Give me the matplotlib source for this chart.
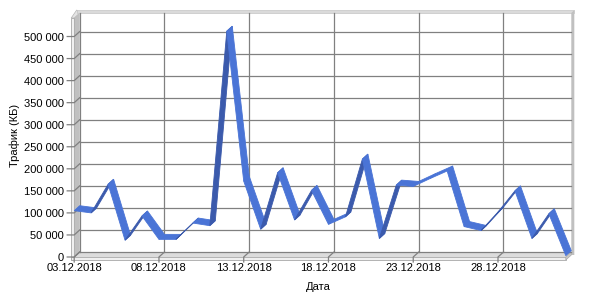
import matplotlib
matplotlib.use("Agg")
import matplotlib.pyplot as plt
from matplotlib.patches import Polygon

# daily traffic, КБ (03.12.2018 - 01.01.2019)
dates = ['03.12.2018', '04.12.2018', '05.12.2018', '06.12.2018', '07.12.2018',
         '08.12.2018', '09.12.2018', '10.12.2018', '11.12.2018', '12.12.2018',
         '13.12.2018', '14.12.2018', '15.12.2018', '16.12.2018', '17.12.2018',
         '18.12.2018', '19.12.2018', '20.12.2018', '21.12.2018', '22.12.2018',
         '23.12.2018', '24.12.2018', '25.12.2018', '26.12.2018', '27.12.2018',
         '28.12.2018', '29.12.2018', '30.12.2018', '31.12.2018', '01.01.2019']
traffic = [105000, 100000, 165000, 38000, 93000, 40000, 40000, 77000, 71000, 512000,
           172000, 63000, 191000, 84000, 151000, 74000, 91000, 222000, 42000, 163000,
           160000, 178000, 195000, 69000, 60000, 102000, 150000, 42000, 98000, 3000]
yticks = list(range(0, 500001, 50000))
ytick_labels = ['{:,}'.format(v).replace(',', ' ') for v in yticks]
xtick_idx = [0, 5, 10, 15, 20, 25]

plt.rcParams['font.family'] = ['Liberation Sans', 'DejaVu Sans']
plt.rcParams['font.size'] = 8

W, H = 600, 300
fig = plt.figure(figsize=(W / 100, H / 100), dpi=100)
left, right, top, bottom = 74.2, 565.8, 18, 257
ax = fig.add_axes([left / W, 1 - bottom / H, (right - left) / W, (bottom - top) / H])
XMAX, YMAX = len(traffic) - 1, 542000
ax.set_xlim(0, XMAX)
ax.set_ylim(0, YMAX)
ax.patch.set_visible(False)
for s in ax.spines.values():
    s.set_visible(False)

# pixel -> data units
ux = XMAX / (right - left)
uy = YMAX / (bottom - top)
DX, DY = 5.5, 5.0          # depth offset of the back wall, px
T = 3.0                    # wall thickness, px
dx, dy, tx, ty = DX * ux, DY * uy, T * ux, T * uy


def poly(pts, fc, ec='none', lw=0.0, z=1):
    ax.add_patch(Polygon(pts, closed=True, facecolor=fc, edgecolor=ec,
                         linewidth=lw, zorder=z, clip_on=False))


# walls
poly([(0, 0), (0, YMAX), (dx, YMAX + dy), (dx, dy)], '#c0c0c0', z=1)
poly([(-tx, -ty), (-tx, YMAX), (0, YMAX), (0, -ty)], '#f0f0f0', '#a8a8a8', 0.6, z=1.2)
poly([(-tx, YMAX), (0, YMAX), (dx, YMAX + dy), (dx - tx, YMAX + dy + ty)], '#e4e4e4',
     '#b4b4b4', 0.5, z=1.1)
poly([(dx - tx, YMAX + dy), (XMAX + dx + tx, YMAX + dy), (XMAX + dx + tx, YMAX + dy + ty),
      (dx - tx, YMAX + dy + ty)], '#dadada', '#c4c4c4', 0.5, z=1.1)
poly([(XMAX + dx, dy - ty), (XMAX + dx, YMAX + dy), (XMAX + dx + tx, YMAX + dy + ty),
      (XMAX + dx + tx, dy - ty)], '#c0c0c0', z=1.1)
poly([(0, 0), (XMAX, 0), (XMAX + dx, dy), (dx, dy)], '#dcdcdc', z=1)
poly([(-tx, -ty), (XMAX, -ty), (XMAX, 0), (-tx, 0)], '#f0f0f0', '#a8a8a8', 0.6, z=1.2)
poly([(XMAX, -ty), (XMAX, 0), (XMAX + dx, dy), (XMAX + dx, dy - ty)], '#c8c8c8',
     '#a8a8a8', 0.5, z=1.2)

# gridlines on the back wall, ticks across walls
grid = dict(color='#808080', linewidth=0.9, zorder=2, clip_on=False)
for v in yticks:
    ax.plot([dx, XMAX + dx], [v + dy, v + dy], **grid)
    ax.plot([-7 * ux, 0, dx], [v, v, v + dy], **grid)
for i in xtick_idx:
    ax.plot([i + dx, i + dx], [dy, YMAX + dy], **grid)
    ax.plot([i, i, i + dx], [-ty - 2 * uy, 0, dy], **grid)

# ribbon
lit, shade = '#4a74d6', '#3b5aac'
for i in range(len(traffic) - 1):
    x0, y0, x1, y1 = i, traffic[i], i + 1, traffic[i + 1]
    cross = (1 / ux) * DY - ((y1 - y0) / uy) * DX
    c = lit if cross > 0 else shade
    poly([(x0, y0), (x1, y1), (x1 + dx, y1 + dy), (x0 + dx, y0 + dy)], c, c, 0.6, z=3)

ax.set_yticks(yticks, ytick_labels)
ax.set_xticks(xtick_idx, [dates[i] for i in xtick_idx])
ax.tick_params(axis='y', length=0, pad=7.2)
ax.tick_params(axis='x', length=0, pad=4.5)

fig.text(15 / W, 1 - 135 / H, 'Трафик (КБ)', rotation=90, ha='center', va='center')
fig.text(318 / W, 1 - 287 / H, 'Дата', ha='center', va='center')

fig.savefig('out.png', dpi=100, facecolor='white')
